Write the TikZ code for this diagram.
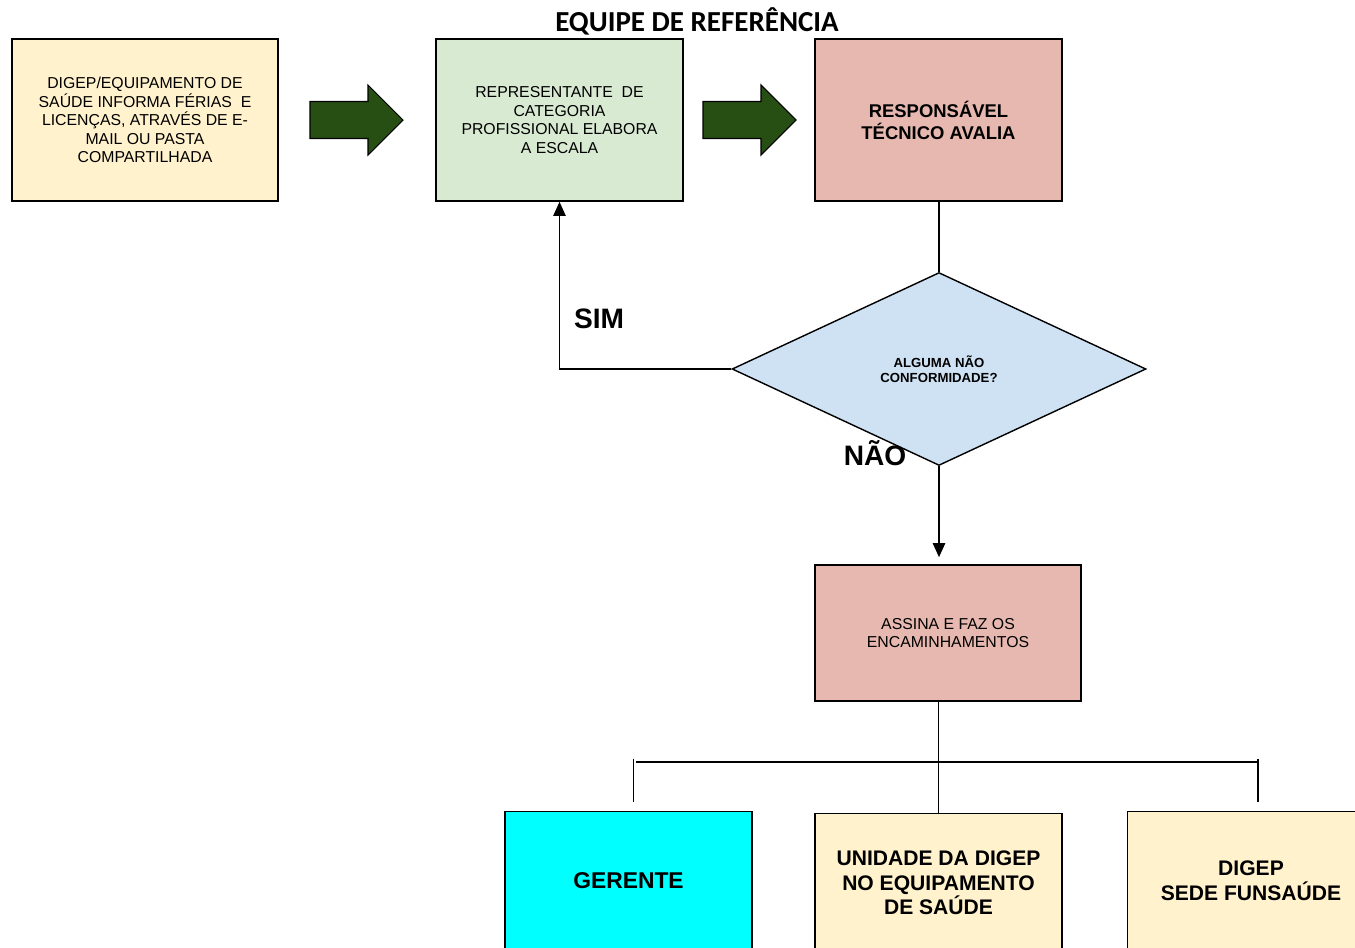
\documentclass[tikz,border=0pt]{standalone}
\usepackage{fontspec}
\setmainfont{Liberation Sans}
\newfontfamily\titlefont{Carlito}
\usepackage{tikz}
\usetikzlibrary{calc, positioning, arrows.meta, shapes.geometric}
\usepackage{xcolor}
\definecolor{creme}{RGB}{255, 242, 204}
\definecolor{verdeclaro}{RGB}{217, 234, 211}
\definecolor{rosa}{RGB}{230, 184, 175}
\definecolor{azulclaro}{RGB}{207, 226, 243}
\definecolor{ciano}{RGB}{0, 255, 255}
\definecolor{verdeseta}{RGB}{39, 78, 19}

\tikzset{
  caixa/.style={draw, line width=0.9pt, align=center, inner sep=2pt,
    minimum width=4.94cm, minimum height=3.24cm},
  losango/.style={diamond, draw, line width=0.8pt, fill=azulclaro, align=center,
    inner sep=0pt, minimum width=8.28cm, minimum height=3.86cm},
  linha/.style={line width=0.8pt},
  bigarrow/.pic={
    \filldraw[fill=verdeseta, draw=black, line width=0.6pt]
      (-46,-18.5) -- (12,-18.5) -- (12,-35) -- (47,0) -- (12,35)
      -- (12,18.5) -- (-46,18.5) -- cycle;
  }
}

\begin{document}
\begin{tikzpicture}[x=0.02cm, y=-0.02cm, >={Triangle[length=8pt, width=7pt]},
  font=\fontsize{9}{10.5}\selectfont]
  \clip (0,0) rectangle (1355,947);

  % Titulo
  \node[font=\titlefont\bfseries\fontsize{16.5}{18}\selectfont] (titulo) at (697,21)
    {EQUIPE DE REFERÊNCIA};

  % Linha de cima
  \node[caixa, fill=creme, minimum width=5.32cm] (digep) at (145,120)
    {DIGEP/EQUIPAMENTO DE\\SAÚDE INFORMA FÉRIAS\ \ E\\LICENÇAS, ATRAVÉS DE E-\\MAIL OU PASTA\\COMPARTILHADA};
  \node[caixa, fill=verdeclaro] (repres) at (559.5,120)
    {REPRESENTANTE\ \ DE\\CATEGORIA\\PROFISSIONAL ELABORA\\A ESCALA};
  \node[caixa, fill=rosa, font=\bfseries\fontsize{10.5}{12.5}\selectfont] (resptec) at (938.5,120)
    {RESPONSÁVEL\\TÉCNICO AVALIA};

  \pic at (356,120) {bigarrow};
  \pic at (749,120) {bigarrow};

  % Decisao
  \node[losango, font=\bfseries\fontsize{7.5}{8.5}\selectfont] (decisao) at (939,369)
    {ALGUMA NÃO\\CONFORMIDADE?};
  \draw[linha] (resptec.south -| decisao.north) -- (decisao.north);
  \draw[linha, ->] (decisao.west) -| (repres.south);
  \node[font=\bfseries\fontsize{16}{18}\selectfont] (sim) at (599,319) {SIM};
  \node[font=\bfseries\fontsize{16}{18}\selectfont] (nao) at (875,453) {NÃO};

  \node[caixa, fill=rosa, minimum width=5.32cm, minimum height=2.72cm] (assina) at (948,633)
    {ASSINA E FAZ OS\\ENCAMINHAMENTOS};
  \draw[line width=1pt, ->, shorten >=4pt] (decisao.south) -- (decisao.south |- assina.north);

  % Destinos
  \node[caixa, fill=ciano, minimum height=2.78cm, font=\bfseries\fontsize{13}{15}\selectfont] (gerente) at (628.5,881)
    {GERENTE};
  \node[caixa, fill=creme, minimum height=2.78cm, font=\bfseries\fontsize{12}{14}\selectfont] (unidade) at (938.5,883)
    {UNIDADE DA DIGEP\\NO EQUIPAMENTO\\DE SAÚDE};
  \node[caixa, fill=creme, minimum height=2.78cm, font=\bfseries\fontsize{12}{14}\selectfont] (sede) at (1251,881)
    {DIGEP\\SEDE FUNSAÚDE};

  \path (gerente.north) ++(7,-49) coordinate (barraE);
  \path (sede.north) ++(7,-49) coordinate (barraD);
  \draw[line width=1.2pt] (barraE) -- (barraD);
  \draw[linha] ($(barraE)+(-2,-3)$) -- ++(0,43);
  \draw[linha] ($(barraD)+(0,-3)$) -- ++(0,43);
  \draw[linha] (unidade.north |- assina.south) -- (unidade.north);
\end{tikzpicture}
\end{document}
